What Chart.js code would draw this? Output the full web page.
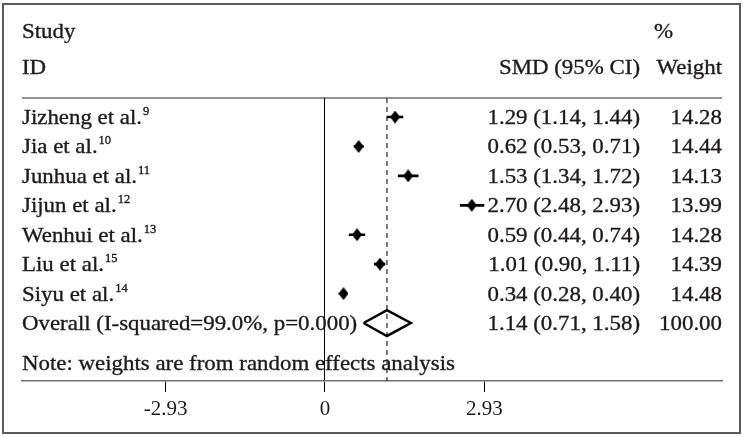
<!DOCTYPE html>
<html>
<head>
<meta charset="utf-8">
<script src="https://cdn.jsdelivr.net/npm/chart.js@4.4.1/dist/chart.umd.min.js"></script>
<style>
  html, body { margin: 0; padding: 0; background: #fff; }
  #wrap { width: 745px; height: 437px; position: relative; }
</style>
</head>
<body>
<div id="wrap"><canvas id="forest" width="745" height="437"></canvas></div>
<script>
// forest plot data
const studies = ['Jizheng et al.', 'Jia et al.', 'Junhua et al.', 'Jijun et al.', 'Wenhui et al.', 'Liu et al.', 'Siyu et al.'];
const refs = ['9', '10', '11', '12', '13', '15', '14'];
const smd = [1.29, 0.62, 1.53, 2.70, 0.59, 1.01, 0.34];
const lower = [1.14, 0.53, 1.34, 2.48, 0.44, 0.90, 0.28];
const upper = [1.44, 0.71, 1.72, 2.93, 0.74, 1.11, 0.40];
const weights = ['14.28', '14.44', '14.13', '13.99', '14.28', '14.39', '14.48'];
const overallLabel = 'Overall (I-squared=99.0%, p=0.000)';
const overallSmd = 1.14;
const overallLower = 0.71;
const overallUpper = 1.58;
const overallWeight = '100.00';
const tickVals = [-2.93, 0, 2.93];
const tickLabels = ['-2.93', '0', '2.93'];

const FONT = '"Liberation Serif", "Times New Roman", serif';
const INK = '#1e1a1b';
const SX = 1.04; // the reference text is a bit stretched sideways

// filled diamond used as the study marker
function diamondMarker(w, h) {
  const c = document.createElement('canvas');
  c.width = w; c.height = h;
  const g = c.getContext('2d');
  g.fillStyle = '#000';
  g.beginPath();
  g.moveTo(w / 2, 0);
  g.lineTo(w, h / 2);
  g.lineTo(w / 2, h);
  g.lineTo(0, h / 2);
  g.closePath();
  g.fill();
  return c;
}
const marker = diamondMarker(10, 13);

const rows = studies.map((s, i) => i + 1);
const overallRow = studies.length + 1;

// CI segments, broken with nulls
const ciData = [];
rows.forEach((r, i) => {
  ciData.push({x: lower[i], y: r}, {x: upper[i], y: r}, {x: null, y: null});
});

const dh = 0.44; // half height of the pooled diamond, in rows
const pooled = [
  {x: overallLower, y: overallRow},
  {x: overallSmd, y: overallRow - dh},
  {x: overallUpper, y: overallRow},
  {x: overallSmd, y: overallRow + dh},
  {x: overallLower, y: overallRow}
];

function txt(ctx, s, x, y, align, size) {
  ctx.font = size + 'px ' + FONT;
  const w = ctx.measureText(s).width * SX;
  let left = x;
  if (align === 'right') left = x - w;
  else if (align === 'center') left = x - w / 2;
  ctx.save();
  ctx.translate(left, y);
  ctx.scale(SX, 1);
  ctx.textAlign = 'left';
  ctx.textBaseline = 'alphabetic';
  ctx.fillStyle = INK;
  ctx.strokeStyle = INK;
  ctx.lineWidth = 0.35;
  ctx.fillText(s, 0, 0);
  ctx.strokeText(s, 0, 0);
  ctx.restore();
  return left + w;
}

const fmt = v => v.toFixed(2);

const forestPlugin = {
  id: 'forestPlugin',
  beforeDraw(chart) {
    const ctx = chart.ctx;
    const a = chart.chartArea;
    ctx.save();
    // outer frame
    ctx.strokeStyle = '#5a5a5a';
    ctx.lineWidth = 2;
    ctx.strokeRect(3, 4, 737, 429);
    // header rule
    ctx.strokeStyle = '#6e6e6e';
    ctx.lineWidth = 1.5;
    ctx.beginPath();
    ctx.moveTo(a.left, a.top);
    ctx.lineTo(a.right, a.top);
    ctx.stroke();
    ctx.restore();
  },
  beforeDatasetsDraw(chart) {
    const ctx = chart.ctx;
    const a = chart.chartArea;
    const x = chart.scales.x.getPixelForValue(overallSmd);
    ctx.save();
    ctx.strokeStyle = '#333';
    ctx.lineWidth = 1.3;
    ctx.setLineDash([5, 4]);
    ctx.beginPath();
    ctx.moveTo(x, a.top);
    ctx.lineTo(x, a.bottom);
    ctx.stroke();
    ctx.restore();
  },
  afterDraw(chart) {
    const ctx = chart.ctx;
    const a = chart.chartArea;
    const y = chart.scales.y;
    const colSmd = 640, colW = 722, fs = 22;
    // header
    txt(ctx, 'Study', a.left, 38, 'left', fs);
    txt(ctx, 'ID', a.left, 74, 'left', fs);
    txt(ctx, '%', 654, 38, 'left', fs);
    txt(ctx, 'SMD (95% CI)', colSmd, 74, 'right', fs);
    txt(ctx, 'Weight', colW, 74, 'right', fs);
    // study rows
    rows.forEach((r, i) => {
      const py = y.getPixelForValue(r) + 7;
      const end = txt(ctx, studies[i], a.left, py, 'left', fs);
      txt(ctx, refs[i], end + 1, py - 9, 'left', 12);
      txt(ctx, fmt(smd[i]) + ' (' + fmt(lower[i]) + ', ' + fmt(upper[i]) + ')', colSmd, py, 'right', fs);
      txt(ctx, weights[i], colW, py, 'right', fs);
    });
    const oy = y.getPixelForValue(overallRow) + 7;
    txt(ctx, overallLabel, a.left, oy, 'left', fs);
    txt(ctx, fmt(overallSmd) + ' (' + fmt(overallLower) + ', ' + fmt(overallUpper) + ')', colSmd, oy, 'right', fs);
    txt(ctx, overallWeight, colW, oy, 'right', fs);
    txt(ctx, 'Note: weights are from random effects analysis', a.left, y.getPixelForValue(overallRow + 1.35) + 7, 'left', fs);
  }
};

new Chart(document.getElementById('forest'), {
  type: 'scatter',
  data: {
    datasets: [
      {
        label: 'CI',
        data: ciData,
        showLine: true,
        spanGaps: false,
        borderColor: '#000',
        borderWidth: 2.7,
        pointRadius: 0,
        order: 3
      },
      {
        label: 'SMD',
        data: rows.map((r, i) => ({x: smd[i], y: r})),
        pointStyle: marker,
        pointRadius: 6,
        order: 1
      },
      {
        label: 'Overall',
        data: pooled,
        showLine: true,
        fill: true,
        backgroundColor: '#fff',
        borderColor: '#000',
        borderWidth: 2.5,
        pointRadius: 0,
        tension: 0,
        order: 2
      }
    ]
  },
  options: {
    responsive: false,
    animation: false,
    devicePixelRatio: 1,
    layout: { padding: { left: 22, right: 23, top: 98, bottom: 16 } },
    plugins: { legend: { display: false }, tooltip: { enabled: false } },
    scales: {
      x: {
        type: 'linear',
        min: -5.57,
        max: 7.3,
        afterBuildTicks: s => { s.ticks = tickVals.map(v => ({value: v})); },
        afterFit: s => { s.height = 40; },
        ticks: {
          callback: (v, i) => tickLabels[i],
          font: { family: FONT, size: 21 },
          color: INK,
          padding: 5,
          maxRotation: 0,
          autoSkip: false
        },
        grid: {
          color: c => (c.tick && c.tick.value === 0) ? '#000' : 'rgba(0,0,0,0)',
          lineWidth: 1,
          drawOnChartArea: true,
          tickColor: '#000',
          tickLength: 11
        },
        border: { display: true, color: '#6e6e6e', width: 1.5 }
      },
      y: {
        type: 'linear',
        display: false,
        reverse: true,
        min: 0.354,
        max: 9.97
      }
    }
  },
  plugins: [forestPlugin]
});
</script>
</body>
</html>
